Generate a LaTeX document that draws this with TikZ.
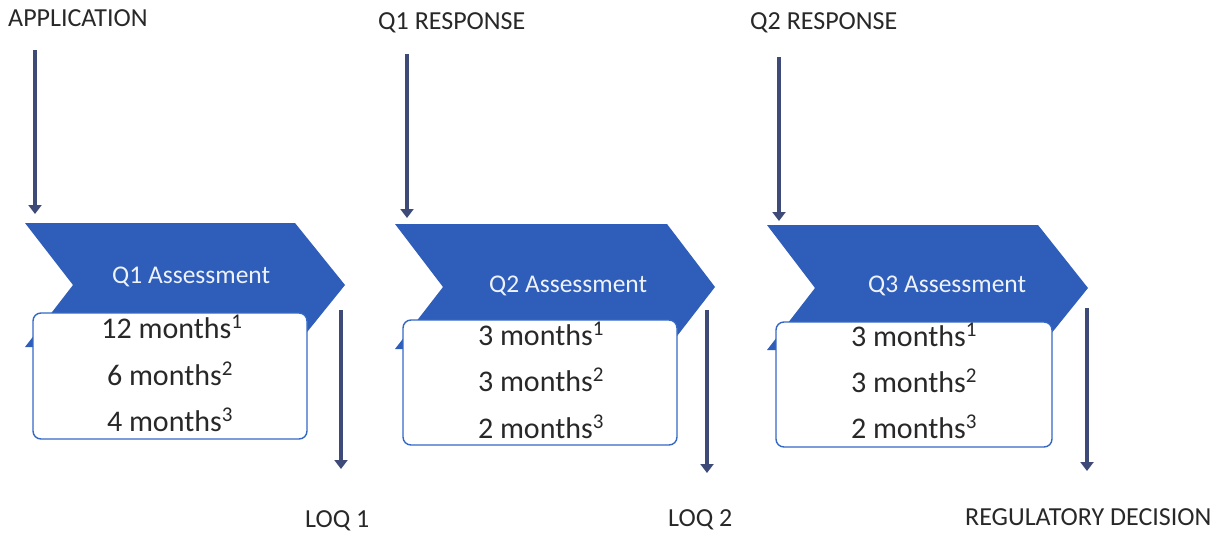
\documentclass[tikz,border=0pt]{standalone}
\usepackage{fontspec}
\setmainfont{Carlito}
\usetikzlibrary{arrows.meta}
\definecolor{chev}{RGB}{47,93,186}
\definecolor{boxline}{RGB}{52,104,196}
\definecolor{arr}{RGB}{62,74,120}
\definecolor{ink}{RGB}{40,40,40}
\begin{document}
\begin{tikzpicture}[x=1pt,y=-1pt,
  chevron/.style={fill=chev,draw=none},
  timebox/.style={draw=boxline,line width=1.4pt,fill=white,rounded corners=8pt},
  flow/.style={draw=arr,line width=4.5pt,-{Triangle[width=13pt,length=9pt]}},
  label/.style={font=\fontsize{26}{30}\selectfont,text=ink,inner sep=0pt,anchor=base west},
  stage/.style={font=\fontsize{25.5}{30}\selectfont,text=white!92!chev,inner sep=0pt,anchor=base west},
  dur/.style={font=\fontsize{30}{36}\selectfont,text=ink,inner sep=0pt,anchor=base}]
\useasboundingbox (0,0) rectangle (1219,533);

% stage chevrons
\fill[chevron] (25,223) -- (295,223) -- (345,285) -- (295,347) -- (25,347) -- (73,285) -- cycle;
\fill[chevron] (395,224) -- (667,224) -- (715,287) -- (667,349) -- (395,349) -- (443,287) -- cycle;
\fill[chevron] (767,225) -- (1038,225) -- (1088,288) -- (1038,350) -- (767,350) -- (815,288) -- cycle;

\node[stage] (s1) at (112,283) {Q1 Assessment};
\node[stage] (s2) at (489,292) {Q2 Assessment};
\node[stage] (s3) at (868,292) {Q3 Assessment};

% duration boxes
\draw[timebox] (33,313) rectangle (307,439);
\draw[timebox] (403,320) rectangle (677,445);
\draw[timebox] (776,322) rectangle (1052,447);

\node[dur] (d11) at (172,338) {12 months\textsuperscript{1}};
\node[dur] (d12) at (170,385) {6 months\textsuperscript{2}};
\node[dur] (d13) at (170,431) {4 months\textsuperscript{3}};
\node[dur] (d21) at (541,345) {3 months\textsuperscript{1}};
\node[dur] (d22) at (541,391) {3 months\textsuperscript{2}};
\node[dur] (d23) at (541,438) {2 months\textsuperscript{3}};
\node[dur] (d31) at (914,346) {3 months\textsuperscript{1}};
\node[dur] (d32) at (914,392) {3 months\textsuperscript{2}};
\node[dur] (d33) at (914,438) {2 months\textsuperscript{3}};

% event labels
\node[label] (app) at (8,26) {APPLICATION};
\node[label] (r1) at (378,29) {Q1 RESPONSE};
\node[label] (r2) at (750,29) {Q2 RESPONSE};
\node[label] (loq1) at (305,527) {LOQ 1};
\node[label] (loq2) at (668,526) {LOQ 2};
\node[label] (dec) at (965,525) {REGULATORY DECISION};

% incoming and outgoing events
\coordinate (in1a) at (35,50);   \coordinate (in1b) at (35,214);
\coordinate (in2a) at (407,54);  \coordinate (in2b) at (407,218);
\coordinate (in3a) at (779,57);  \coordinate (in3b) at (779,221);
\coordinate (out1a) at (341,310); \coordinate (out1b) at (341,469);
\coordinate (out2a) at (707,310); \coordinate (out2b) at (707,473);
\coordinate (out3a) at (1087,308); \coordinate (out3b) at (1087,471);

\draw[flow] (in1a) -- (in1b);
\draw[flow] (in2a) -- (in2b);
\draw[flow] (in3a) -- (in3b);
\draw[flow] (out1a) -- (out1b);
\draw[flow] (out2a) -- (out2b);
\draw[flow] (out3a) -- (out3b);
\end{tikzpicture}
\end{document}
